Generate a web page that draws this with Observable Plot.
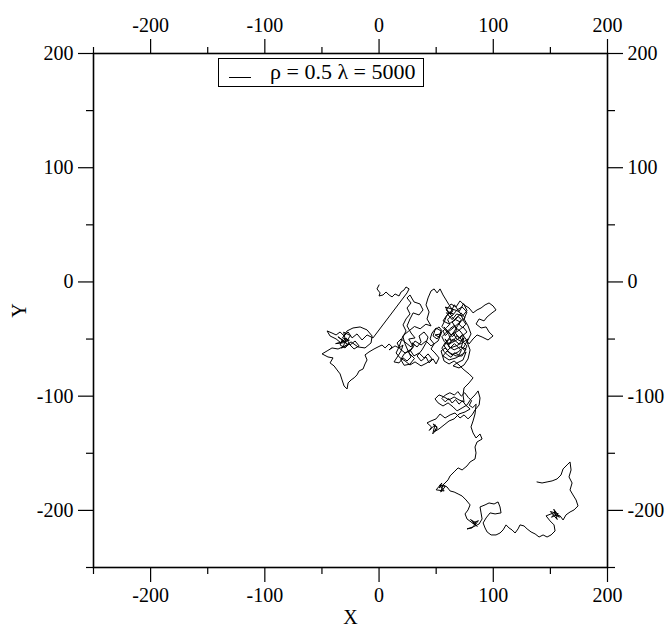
<!DOCTYPE html>
<html><head><meta charset="utf-8">
<script src="https://cdn.jsdelivr.net/npm/d3@7"></script>
<script src="https://cdn.jsdelivr.net/npm/@observablehq/plot@0.6"></script>
<style>
body{margin:0;background:#fff;}
#wrap{position:relative;width:670px;height:628px;}
#legend{position:absolute;left:218px;top:58px;width:206px;height:29px;border:1px solid #000;box-sizing:border-box;background:#fff;font-family:"Liberation Serif","Times New Roman",serif;font-size:22px;color:#000;}
#legend .sw{position:absolute;left:10px;top:18px;width:22px;height:0;border-top:1px solid #000;}
#legend .tx{position:absolute;left:51px;top:1px;line-height:24px;white-space:nowrap;}
</style></head><body><div id="wrap"></div>
<script>
// random-walk path (x, y), in drawing order
const startRidge = [[0,-2.6],[-1.8,-6.1],[0.9,-9.6],[0,-12.3],[3.5,-11.4],[6.1,-8.8],[8.8,-11.4],[11.4,-13.1],[14.0,-10.5],[17.5,-12.3],[19.3,-8.8],[21.9,-7.0],[23.6,-4.4],[26.3,-6.1],[24.5,-9.6]];
const leftCluster = [[-5.3,-49.0],[-10.5,-46.4],[-14.9,-50.8],[-19.3,-45.5],[-23.6,-49.0],[-27.1,-43.8],[-30.6,-47.3],[-34.1,-43.8],[-37.6,-46.4],[-41.2,-44.7],[-45.5,-42.9],[-42.9,-47.3],[-37.6,-49.9],[-33.3,-53.4],[-28.9,-49.0],[-25.4,-55.2],[-21.0,-51.7],[-17.5,-56.0],[-21.9,-58.7],[-26.3,-54.3],[-29.8,-57.8],[-34.1,-55.2],[-32.4,-50.8],
[-30,-52],[-36,-48],[-27,-55],[-33,-58],[-25,-47],[-31,-44],[-29,-53],[-38,-54],[-26,-51],[-32,-49],
[-28.0,-42.9],[-22.8,-40.3],[-16.6,-39.4],[-10.5,-42.0],[-6.1,-47.3],[-7.0,-53.4],[-12.3,-57.8],[-18.4,-56.9],[-24.5,-52.5],[-29.8,-56.0],[-35.9,-58.7],[-41.2,-57.8],[-45.5,-60.4],[-49.9,-63.0]];
const lowerLeft = [[-44.7,-65.7],[-40.3,-66.5],[-42.9,-70.9],[-39.4,-73.5],[-36.8,-77.0],[-34.1,-80.5],[-32.4,-85.8],[-30.6,-91.1],[-28.0,-93.7],[-27.1,-88.4],[-24.5,-85.8],[-21.9,-84.0],[-19.3,-81.4],[-17.5,-77.9],[-14.0,-76.2],[-12.3,-71.8],[-10.5,-68.3],[-12.3,-63.9],[-8.8,-61.3],[-4.4,-58.7]];
const bridge = [[-0.9,-56.9],[2.6,-55.2],[5.3,-57.8],[8.8,-54.3],[11.4,-56.9],[8.8,-59.5],[14.0,-56.0],[17.5,-57.8],[21.0,-55.2],[19.3,-60.4]];
const middle = [[16.6,-64.8],[13.1,-70.0],[17.5,-70.9],[21.0,-66.5],[24.5,-69.2],[28.0,-65.7],[25.4,-60.4],[22.8,-54.3],[21.0,-48.2],[23.6,-42.9],[21.0,-37.6],[23.6,-32.4],[27.1,-28.0],[24.5,-22.8],[28.0,-18.4],[24.5,-14.0],[27.1,-11.4],[30.6,-17.5],[35.9,-19.3],[38.5,-24.5],[35.0,-28.9],[29.8,-27.1],[27.1,-32.4],[24.5,-38.5],[28.0,-44.7],[31.5,-49.0],
[26,-50],[30,-57],[26,-62],[31,-67],[27,-72],[22,-73],[19,-68],[22,-63],[27,-60],[31,-55],
[28.9,-53.4],[33.3,-56.9],[36.8,-52.5],[35.0,-47.3],[39.4,-43.8],[42.9,-48.2],[41.1,-53.4],[37.6,-59.5],[33.3,-64.8],[36.8,-69.2],[41.1,-65.7],[43.8,-70.9],[47.3,-67.4],[49.9,-71.8],[52.5,-66.5],[49.0,-62.2],[45.5,-58.7],[48.2,-54.3],[44.7,-49.9],[46.4,-44.7],[49.9,-40.3],[54.3,-42.9],[52.5,-48.2],[49.0,-46.4]];
const middleMesh = [[54.3,-45.5],[50.8,-49.9],[47.3,-47.3],[49.0,-42.0],[52.5,-39.4],[55.2,-42.9],[51.7,-51.7],[45.5,-56.0],[41.1,-51.7],[36.8,-55.2],[31.5,-51.7],[28.0,-56.9],[23.6,-53.4],[19.3,-49.9],[15.8,-53.4],[18.4,-58.7],[22.8,-62.2],[27.1,-59.5],[30.6,-64.8],[35.0,-62.2],[39.4,-66.5],[42.9,-63.0],[46.4,-67.4],[42.0,-70.9],[36.8,-73.5],[31.5,-70.0],[27.1,-72.7],[22.8,-69.2],[18.4,-66.5],[14.9,-62.2],[17.5,-56.9],
[21,-47],[26,-43],[31,-39],[36,-41],[41,-37]];
const topMiddle = [[45.5,-38.5],[42.0,-32.4],[43.8,-26.3],[41.1,-20.1],[42.9,-14.0],[45.5,-7.9],[48.2,-6.1],[50.8,-9.6],[53.4,-6.1],[56.0,-11.4],[58.7,-15.8],[61.3,-20.1]];
const denseCluster = [[64.8,-25.4],[59.5,-28.9],[56.0,-34.1],[61.3,-36.8],[67.4,-32.4],[71.8,-27.1],[75.3,-31.5],[70.0,-35.9],[64.8,-40.3],[60.4,-43.8],[56.9,-39.4],[63.0,-46.4],[69.2,-42.9],[73.5,-39.4],[77.0,-43.8],[71.8,-48.2],[66.5,-51.7],[61.3,-54.3],[57.8,-49.9],[62.2,-57.8],[67.4,-56.0],[72.7,-53.4],[77.9,-49.9],[74.4,-56.9],[69.2,-61.3],[63.9,-63.9],[59.5,-60.4],[56.0,-64.8],[61.3,-68.3],[67.4,-66.5],[71.8,-63.9],[76.2,-61.3],[73.5,-68.3],[68.3,-70.9],[64.8,-73.5],[70.0,-75.3],[74.4,-72.7],[77.9,-67.4],[79.7,-59.5],[77.0,-52.5],[80.5,-45.5],[77.9,-38.5],[74.4,-32.4],[77.0,-26.3],[72.7,-21.9],[68.3,-24.5],[63.9,-29.8],[58.7,-24.5],[63.0,-19.3],[67.4,-21.9],[70.9,-16.6],[74.4,-20.1],[78.8,-22.8]];
const rightLobe = [[82.3,-27.1],[85.8,-24.5],[89.3,-22.8],[92.8,-20.1],[96.3,-18.4],[99.8,-21.0],[102.4,-24.5],[98.9,-27.1],[94.6,-30.6],[91.9,-34.1],[87.6,-32.4],[84.9,-36.8],[89.3,-40.3],[93.7,-39.4],[96.3,-43.8],[99.8,-47.3],[95.4,-50.8],[90.2,-48.2],[85.8,-46.4],[82.3,-49.9],[78.8,-54.3]];
const denseReturn = [[76,-50],[73,-46],[70,-49],[67,-45],[64,-48],[61,-44],[58,-47],[56,-43],[59,-40],[62,-37],[60,-33],[63,-30],[66,-33],[69,-30],[72,-33],[70,-37],[73,-40],[76,-37],[74,-34],[71,-27],[68,-25],
[58,-22],[62,-28],[66,-20],[70,-26],[74,-19],[77,-25],[73,-30],[68,-28],[64,-33],[59,-27],
[65,-28],[62,-26],[59,-30],[57,-35],[55,-39],[58,-42],[61,-46],[63,-52],[60,-55],[57,-52],[55,-48],[58,-45],[62,-41],[66,-38],[68,-42],[65,-45],[68,-50],[72,-52],[74,-47],[71,-43],[67,-40],[64,-35],[67,-33],[71,-35],[69,-38],[66,-43],[63,-47],[60,-51],[57,-56],[60,-60],[63,-57],[66,-54],[69,-57],[72,-60],[70,-64],[66,-62],[63,-66],[60,-64],[57,-61],[55,-58],[58,-53],[62,-50],[65,-52],[68,-47],[71,-49],[74,-53],[77,-56],[75,-60],[72,-57],
[74.4,-49.0],[70.0,-54.3],[64.8,-49.9],[60.4,-56.0],[65.7,-59.5],[70.9,-56.9],[76.2,-58.7],[72.7,-64.8],[67.4,-64.8],[62.2,-62.2],[57.8,-57.8],[54.3,-60.4],[56.9,-69.2],[61.3,-71.8],[65.7,-69.2],[70.0,-72.7],[74.4,-77.0]];
const descent = [[78.8,-80.5],[82.3,-84.0],[78.8,-88.4],[74.4,-92.8],[73.5,-98.9],[74.4,-105.1]];
const lowerCluster = [[70.0,-103.3],[65.7,-100.7],[61.3,-103.3],[56.9,-100.7],[52.5,-98.9],[49.0,-102.4],[51.7,-105.9],[56.0,-108.6],[60.4,-105.9],[64.8,-109.4],[68.3,-112.9],[72.7,-110.3],[77.0,-107.7],[80.5,-102.4],[84.0,-98.9],[86.7,-95.4],[88.4,-101.6],[87.6,-107.7],[84.0,-112.1],[81.4,-116.4],[77.9,-119.9],[74.4,-116.4],[70.9,-119.1],[66.5,-114.7],[62.2,-116.4],[57.8,-119.1],[53.4,-115.6],[49.9,-119.9],[45.5,-121.7],[42.0,-123.4],
[46,-127],[44,-130],[49,-125],[47,-133],[51,-128],
[47.3,-124.3],[50.8,-126.9],[48.2,-131.3],[52.5,-128.7],[56.9,-125.2],[61.3,-121.7],[65.7,-119.9],[70.0,-115.6],[75.3,-113.8],[79.7,-111.2],
[76,-108],[73,-104],[70,-107],[67,-103],[64,-106],[61,-102],[58,-105],[55,-102],[58,-99],[62,-97],[66,-99],[69,-96],[72,-100],[75,-97],[78,-101],[81,-104],[79,-108],[82,-110],[85,-107],
[84.0,-115.6],[82.3,-121.7],[80.5,-126.9],[82.3,-132.2],[84.9,-136.6],[88.4,-133.1],[90.2,-137.5],[85.8,-140.1],[84.0,-144.5],[84.9,-149.7],[84.0,-155.0]];
const midDescent = [[79.7,-157.6],[77.0,-161.1],[72.7,-164.6],[69.2,-162.8],[65.7,-166.3],[62.2,-169.8],[60.4,-173.3],[56.9,-176.9],[52.5,-180.4],
[55,-176],[50,-182],[57,-183],[53,-178],[58,-179],[54,-184],
[56.0,-177.7],[59.5,-179.5],[62.2,-183.0],[65.7,-183.9],[69.2,-185.6],[72.7,-187.4],[76.2,-190.9],[79.7,-195.2],[77.9,-199.6],[75.3,-203.1],[77.0,-207.5],[80.5,-210.1],[84.0,-212.7],
[87,-209],[82,-211],[86,-214],[80,-208],[85,-211],
[81.4,-215.4],[77.0,-216.2],[82.3,-214.5],[87.6,-211.9],[90.2,-207.5],[89.3,-202.2],[88.4,-197.0]];
const bottomLoop = [[92.8,-195.2],[96.3,-193.5],[100.7,-194.4],[104.2,-192.6],[105.9,-197.0],[106.8,-202.2],[101.6,-203.1],[97.2,-202.2],[93.7,-206.6],[91.1,-211.0],[92.8,-215.4],[94.6,-218.9],[98.1,-221.5],[102.4,-221.5],[105.9,-219.8],[108.6,-217.1],[111.2,-212.7],[113.8,-215.4],[116.4,-217.1],[119.1,-219.8],[121.7,-216.2],[123.4,-212.7],[126.9,-213.6],[129.6,-216.2],[133.1,-218.9],[136.6,-220.6],[140.1,-223.3],[143.6,-221.5],[147.1,-223.3],[150.6,-221.5],[154.1,-218.0]];
const rightArm = [[153.2,-212.7],[149.7,-209.2],[146.2,-204.8],[150.6,-203.1],[155.0,-201.4],
[151,-206],[157,-203],[150,-201],[156,-208],[153,-199],[158,-206],[154,-204],
[158.5,-204.8],[161.1,-208.4],[163.7,-203.9],[167.2,-201.4],[170.7,-199.6],[174.2,-196.1],[172.5,-190.9],[169.8,-186.5],[167.2,-182.1],[169.0,-176.0],[166.3,-170.7],[168.1,-164.6],[167.2,-157.6],[164.6,-160.2],[161.1,-163.7],[159.3,-169.0],[155.8,-172.5],[151.5,-174.2],[147.1,-175.1],[142.7,-176.0],[138.3,-175.1]];

const majorTicks = [-200, -100, 0, 100, 200];
const minorTicks = [-250, -150, -50, 50, 150];
const xLabel = "X";
const yLabel = "Y";
const legendLabel = "ρ = 0.5 λ = 5000";

const walk = [].concat(startRidge, leftCluster, lowerLeft, bridge, middle, middleMesh, topMiddle, denseCluster, rightLobe, denseReturn, descent, lowerCluster, midDescent, bottomLoop, rightArm)
  .map(([x, y]) => ({x, y}));
const fmt = d => String(d);
const blank = () => "";
const plot = Plot.plot({
  width: 670, height: 628,
  marginLeft: 93, marginRight: 63, marginTop: 53, marginBottom: 61,
  style: {fontFamily: '"Liberation Serif","Times New Roman",serif', fontSize: "20px", background: "#fff", color: "#000"},
  x: {domain: [-250, 200]},
  y: {domain: [-250, 200]},
  marks: [
    Plot.line(walk, {x: "x", y: "y", stroke: "#000", strokeWidth: 1, strokeLinejoin: "miter"}),
    Plot.frame({stroke: "#000", strokeWidth: 1.6}),
    Plot.axisX(majorTicks, {anchor: "bottom", tickSize: 15, tickPadding: 5, tickFormat: fmt, label: xLabel, labelAnchor: "center", labelArrow: "none", labelOffset: 56, strokeWidth: 1.2}),
    Plot.axisX(majorTicks, {anchor: "top", tickSize: 15, tickPadding: 7, tickFormat: fmt, label: null, strokeWidth: 1.2}),
    Plot.axisY(majorTicks, {anchor: "left", tickSize: 15, tickPadding: 5, tickFormat: fmt, label: yLabel, labelAnchor: "center", labelArrow: "none", labelOffset: 82, strokeWidth: 1.2}),
    Plot.axisY(majorTicks, {anchor: "right", tickSize: 15, tickPadding: 5, tickFormat: fmt, label: null, strokeWidth: 1.2}),
    Plot.axisX(minorTicks, {anchor: "bottom", tickSize: 7, tickFormat: blank, label: null, strokeWidth: 1.2}),
    Plot.axisX(minorTicks, {anchor: "top", tickSize: 7, tickFormat: blank, label: null, strokeWidth: 1.2}),
    Plot.axisY(minorTicks, {anchor: "left", tickSize: 7, tickFormat: blank, label: null, strokeWidth: 1.2}),
    Plot.axisY(minorTicks, {anchor: "right", tickSize: 7, tickFormat: blank, label: null, strokeWidth: 1.2})
  ]
});
const wrap = document.getElementById("wrap");
wrap.appendChild(plot);
const lg = document.createElement("div");
lg.id = "legend";
lg.innerHTML = '<div class="sw"></div><div class="tx"></div>';
lg.querySelector(".tx").textContent = legendLabel;
wrap.appendChild(lg);
</script></body></html>
